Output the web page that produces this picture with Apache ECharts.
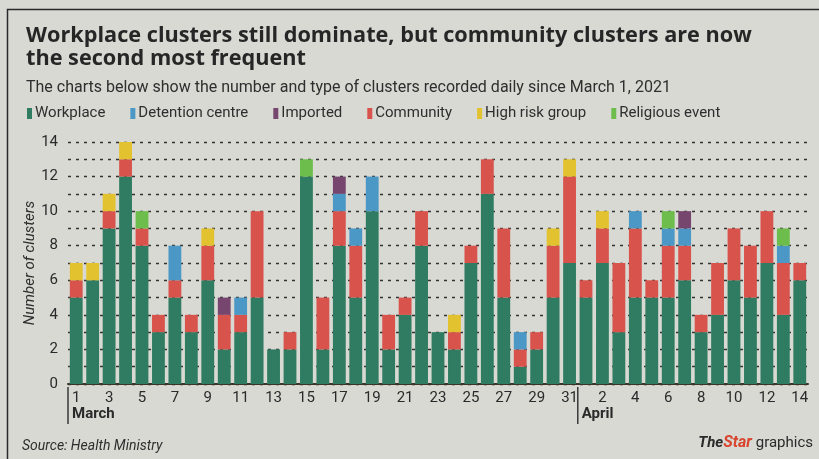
<!DOCTYPE html>
<html>
<head>
<meta charset="utf-8">
<script src="https://cdn.jsdelivr.net/npm/echarts@6/dist/echarts.min.js"></script>
<style>
html,body{margin:0;padding:0;background:#d8d9d3;}
#c{width:819px;height:459px;}
</style>
</head>
<body>
<div id="c"></div>
<script>
const days = [
  '1','2','3','4','5','6','7','8','9','10','11','12','13','14','15','16','17','18','19','20',
  '21','22','23','24','25','26','27','28','29','30','31',
  '1','2','3','4','5','6','7','8','9','10','11','12','13','14'
];
const workplace = [5,6,9,12,8,3,5,3,6,2,3,5,2,2,12,2,8,5,10,2,4,8,3,2,7,11,5,1,2,5,7,5,7,3,5,5,5,6,3,4,6,5,7,4,6];
const community = [1,0,1,1,1,1,1,1,2,2,1,5,0,1,0,3,2,3,0,2,1,2,0,1,1,2,4,1,1,3,5,1,2,4,4,1,3,2,1,3,3,3,3,3,1];
const detention = [0,0,0,0,0,0,2,0,0,0,1,0,0,0,0,0,1,1,2,0,0,0,0,0,0,0,0,1,0,0,0,0,0,0,1,0,1,1,0,0,0,0,0,1,0];
const imported  = [0,0,0,0,0,0,0,0,0,1,0,0,0,0,0,0,1,0,0,0,0,0,0,0,0,0,0,0,0,0,0,0,0,0,0,0,0,1,0,0,0,0,0,0,0];
const highRisk  = [1,1,1,1,0,0,0,0,1,0,0,0,0,0,0,0,0,0,0,0,0,0,0,1,0,0,0,0,0,1,1,0,1,0,0,0,0,0,0,0,0,0,0,0,0];
const religious = [0,0,0,0,1,0,0,0,0,0,0,0,0,0,1,0,0,0,0,0,0,0,0,0,0,0,0,0,0,0,0,0,0,0,0,0,1,0,0,0,0,0,0,1,0];
const yTicks = [0,2,4,6,8,10,12,14];
const monthMarks = [[0, 'March'], [31, 'April']];

const seriesDefs = [
  ['Workplace', workplace, '#2f7c62'],
  ['Community', community, '#d8534b'],
  ['Detention centre', detention, '#4b97c6'],
  ['Imported', imported, '#76466f'],
  ['High risk group', highRisk, '#e2c22e'],
  ['Religious event', religious, '#6cbd4c']
];
const legendOrder = ['Workplace','Detention centre','Imported','Community','High risk group','Religious event'];

const chart = echarts.init(document.getElementById('c'));
const font = 'Roboto, "Liberation Sans", sans-serif';

function staticGraphics() {
  return [
    {id: 'frame', type: 'rect', left: 5, top: 7, shape: {width: 830, height: 470}, style: {fill: 'none', stroke: '#2a2a2a', lineWidth: 1.5}, silent: true},
    {id: 'src', type: 'text', left: 22, top: 439, style: {text: 'Source: Health Ministry', font: 'italic 14px ' + font, fill: '#2e2e2e'}},
    {id: 'brand', type: 'text', right: 6, top: 435, style: {
      text: '{a|The}{b|Star}{c| graphics}',
      rich: {
        a: {font: 'italic bold 15px ' + font, fill: '#2a2a2a'},
        b: {font: 'italic bold 16px ' + font, fill: '#d9442e'},
        c: {font: '15px ' + font, fill: '#2a2a2a'}
      }}}
  ];
}

chart.setOption({
  backgroundColor: '#d8d9d3',
  animation: false,
  title: {
    text: 'Workplace clusters still dominate, but community clusters are now\nthe second most frequent',
    left: 21, top: 19,
    textStyle: {fontFamily: '"Open Sans", Roboto, sans-serif', fontWeight: 'bold', fontSize: 21.7, lineHeight: 23, color: '#262626'},
    subtext: 'The charts below show the number and type of clusters recorded daily since March 1, 2021',
    itemGap: 10,
    subtextStyle: {fontFamily: font, fontSize: 16, color: '#2e2e2e'}
  },
  legend: {
    data: legendOrder,
    left: 22, top: 101,
    icon: 'rect', itemWidth: 5, itemHeight: 11, itemGap: 25,
    textStyle: {fontFamily: font, fontSize: 15, color: '#2e2e2e', padding:[0,0,0,-2]}
  },
  grid: {left: 68, right: 11, top: 142, bottom: 75},
  xAxis: {
    type: 'category', data: days,
    axisLine: {lineStyle: {color: '#3d3428', width: 2}},
    axisTick: {show: false},
    axisLabel: {interval: 1, color: '#2a2a2a', fontFamily: font, fontSize: 15, margin: 7}
  },
  yAxis: {
    type: 'value', min: 0, max: 14, interval: 1,
    name: 'Number of clusters', nameLocation: 'middle', nameGap: 30, nameMoveOverlap: false,
    nameTextStyle: {fontStyle: 'italic', fontFamily: font, fontSize: 15, color: '#2e2e2e'},
    axisLine: {show: false}, axisTick: {show: false},
    axisLabel: {color: '#2a2a2a', fontFamily: font, fontSize: 15, margin: 10,
      formatter: v => yTicks.includes(v) ? String(v) : ''},
    splitLine: {lineStyle: {color: '#333', type: [3, 5], width: 1.3}}
  },
  series: seriesDefs.map(([name, data, color]) => ({
    name, type: 'bar', stack: 'all', data,
    barCategoryGap: '22%',
    itemStyle: {color},
    emphasis: {disabled: true}
  })),
  graphic: staticGraphics()
});

(function addMonths() {
  const p0 = chart.convertToPixel({xAxisIndex: 0}, 0);
  const p1 = chart.convertToPixel({xAxisIndex: 0}, 1);
  const step = p1 - p0;
  const base = chart.convertToPixel({yAxisIndex: 0}, 0);
  const g = staticGraphics();
  monthMarks.forEach(([idx, label], i) => {
    const x = chart.convertToPixel({xAxisIndex: 0}, idx) - step / 2;
    g.push({id: 'ml' + i, type: 'line', shape: {x1: x, y1: base + 3, x2: x, y2: base + 40}, style: {stroke: '#3a3a3a', lineWidth: 1.5}, silent: true});
    g.push({id: 'mt' + i, type: 'text', x: x + 4, y: base + 23, style: {text: label, font: 'bold 15px ' + font, fill: '#2a2a2a'}});
  });
  chart.setOption({graphic: g});
})();
</script>
</body>
</html>
